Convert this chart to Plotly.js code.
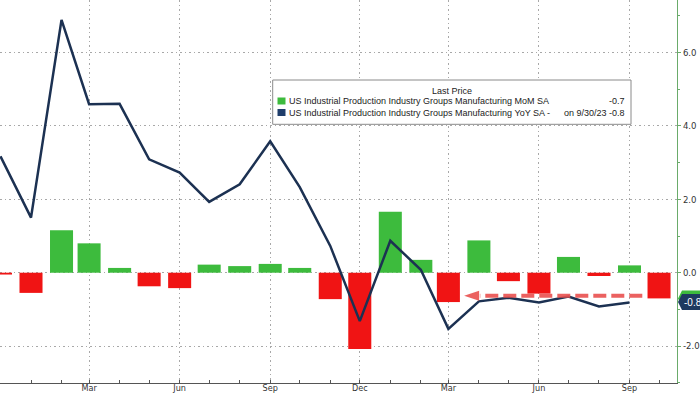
<!DOCTYPE html>
<html>
<head>
<meta charset="utf-8">
<script src="https://cdn.plot.ly/plotly-3.0.1.min.js"></script>
<style>html,body{margin:0;padding:0;background:#fff;}#chart{width:700px;height:394px;}</style>
</head>
<body>
<div id="chart"></div>
<script>
// ---- data ----
const momMonths = ['2021-12-01','2022-01-01','2022-02-01','2022-03-01','2022-04-01','2022-05-01','2022-06-01','2022-07-01','2022-08-01','2022-09-01','2022-10-01','2022-11-01','2022-12-01','2023-01-01','2023-02-01','2023-03-01','2023-04-01','2023-05-01','2023-06-01','2023-07-01','2023-08-01','2023-09-01','2023-10-01'];
const momValues = [-0.05,-0.55,1.16,0.80,0.13,-0.37,-0.42,0.22,0.18,0.24,0.13,-0.72,-2.08,1.66,0.35,-0.80,0.88,-0.23,-0.57,0.43,-0.09,0.20,-0.70];
const yoyMonths = ['2021-12-01','2022-01-01','2022-02-01','2022-03-01','2022-04-01','2022-05-01','2022-06-01','2022-07-01','2022-08-01','2022-09-01','2022-10-01','2022-11-01','2022-12-01','2023-01-01','2023-02-01','2023-03-01','2023-04-01','2023-05-01','2023-06-01','2023-07-01','2023-08-01','2023-09-01'];
const yoyValues = [3.17,1.50,6.89,4.59,4.60,3.09,2.73,1.93,2.41,3.58,2.33,0.73,-1.32,0.87,0.08,-1.53,-0.78,-0.68,-0.81,-0.65,-0.92,-0.81];
const tickDates = ['2021-12-01','2022-03-01','2022-06-01','2022-09-01','2022-12-01','2023-03-01','2023-06-01','2023-09-01'];
const tickLabels = ['','Mar','Jun','Sep','Dec','Mar','Jun','Sep'];
const yTickValues = [-2, 0, 2, 4, 6];
const yTickLabels = ['-2.0', '0.0', '2.0', '4.0', '6.0'];
const seriesNames = ['US Industrial Production Industry Groups Manufacturing MoM SA','US Industrial Production Industry Groups Manufacturing YoY SA -'];
const lastValues = ['-0.7','-0.8'];
const lastNumbers = [-0.7, -0.8];
const lastDateText = 'on 9/30/23';
const legendHeader = 'Last Price';
const arrowLevel = -0.63;
const arrowFrom = '2023-09-14';
const arrowTo = '2023-04-02';
const arrowTip = '2023-03-17';

// ---- style ----
const GREEN = '#3dbb3d', RED = '#f01414', NAVY = '#1c3152', AXG = '#6aab6a', TAGNAVY = '#1e3a5f';
const W = 677, H = 383; // plot area in px
const px = x => x / W;
const py = y => (H - y) / H;
const tickFamily = '"Liberation Sans Narrow","Arial Narrow","DejaVu Sans Condensed","Liberation Sans",sans-serif';
const legFont = {family: '"Liberation Sans",Arial,sans-serif', size: 9, color: '#222'};
const GRID = '#a8a8a8', GRIDDASH = '1.5px,3px';

const barTrace = {
  type: 'bar', x: momMonths, y: momValues,
  marker: {color: momValues.map(v => v >= 0 ? GREEN : RED)},
  width: 23.4 * 86400000,
  name: seriesNames[0], hoverinfo: 'skip'
};
const lineTrace = {
  type: 'scatter', mode: 'lines', x: yoyMonths, y: yoyValues,
  line: {color: NAVY, width: 2.5},
  name: seriesNames[1], hoverinfo: 'skip'
};

const shapes = [
  // legend box
  {type: 'rect', xref: 'paper', yref: 'paper', x0: px(272.7), x1: px(631), y0: py(124.3), y1: py(80),
   line: {color: '#8a8a8a', width: 1}, fillcolor: '#ffffff', layer: 'above'},
  {type: 'rect', xref: 'paper', yref: 'paper', x0: px(277.5), x1: px(285.5), y0: py(104.5), y1: py(97.5),
   line: {width: 0}, fillcolor: GREEN, layer: 'above'},
  {type: 'rect', xref: 'paper', yref: 'paper', x0: px(277.5), x1: px(285.5), y0: py(116), y1: py(109),
   line: {width: 0}, fillcolor: '#1f3d6b', layer: 'above'},
  // dashed arrow
  {type: 'line', xref: 'x', yref: 'y', x0: arrowFrom, x1: arrowTo, y0: arrowLevel, y1: arrowLevel,
   line: {color: '#e9514f', width: 4, dash: '13px,5px'}, layer: 'above', opacity: 0.9},
  {type: 'path', xref: 'x', yref: 'y', xsizemode: 'pixel', ysizemode: 'pixel', xanchor: arrowTip, yanchor: arrowLevel,
   path: 'M0,0 L15,5 L15,-5 Z', fillcolor: '#e9514f', line: {width: 0}, layer: 'above', opacity: 0.9},
  // right-axis value tags: green (behind) and navy pointer
  {type: 'path', xref: 'paper', yref: 'y', xsizemode: 'pixel', ysizemode: 'pixel', xanchor: 1, yanchor: lastNumbers[0],
   path: 'M1,0 L5,8 L30,8 L30,-8 L5,-8 Z', fillcolor: GREEN, line: {width: 0}, layer: 'above'},
  {type: 'path', xref: 'paper', yref: 'y', xsizemode: 'pixel', ysizemode: 'pixel', xanchor: 1, yanchor: lastNumbers[1],
   path: 'M1,0 L5,8 L30,8 L30,-8 L5,-8 Z', fillcolor: TAGNAVY, line: {width: 0}, layer: 'above'}
];

const annotations = [
  {xref: 'paper', yref: 'paper', x: px(451.7), y: py(91), text: legendHeader, showarrow: false, xanchor: 'center', yanchor: 'middle', font: legFont},
  {xref: 'paper', yref: 'paper', x: px(287), y: py(101), text: seriesNames[0], showarrow: false, xanchor: 'left', yanchor: 'middle', font: legFont},
  {xref: 'paper', yref: 'paper', x: px(287), y: py(112.7), text: seriesNames[1], showarrow: false, xanchor: 'left', yanchor: 'middle', font: legFont},
  {xref: 'paper', yref: 'paper', x: px(627), y: py(101), text: lastValues[0], showarrow: false, xanchor: 'right', yanchor: 'middle', font: legFont},
  {xref: 'paper', yref: 'paper', x: px(627), y: py(112.7), text: lastDateText + ' ' + lastValues[1], showarrow: false, xanchor: 'right', yanchor: 'middle', font: legFont},
  {xref: 'paper', yref: 'y', x: 1, y: lastNumbers[1], text: lastValues[1], showarrow: false, xanchor: 'left', yanchor: 'middle', xshift: 5,
   borderpad: 1, font: {family: '"Liberation Sans",Arial,sans-serif', size: 10, color: '#fff'}}
];

const layout = {
  width: 700, height: 394,
  margin: {l: 0, r: 23, t: 0, b: 11, pad: 0},
  paper_bgcolor: '#fff', plot_bgcolor: '#fff',
  showlegend: false, bargap: 0.2,
  xaxis: {
    type: 'date', range: ['2021-11-30 12:00', '2023-10-19 06:00'],
    tickmode: 'array', tickvals: tickDates, ticktext: tickLabels,
    showgrid: true, gridcolor: GRID, griddash: GRIDDASH, gridwidth: 1,
    showline: true, linecolor: '#555', linewidth: 1,
    ticks: 'inside', ticklen: 3, tickcolor: '#555',
    minor: {dtick: 'M1', tick0: '2021-12-01', ticks: 'inside', ticklen: 3, tickcolor: '#555', showgrid: false},
    tickfont: {family: tickFamily, size: 9, color: '#333'}, ticklabelstandoff: -4,
    zeroline: false, fixedrange: true
  },
  yaxis: {
    side: 'right', range: [-3.005, 7.43], tickmode: 'array', tickvals: yTickValues, ticktext: yTickLabels,
    tickfont: {family: tickFamily, size: 9.5, color: '#333'},
    showgrid: true, gridcolor: GRID, griddash: GRIDDASH, gridwidth: 1,
    showline: true, linecolor: AXG, linewidth: 1,
    ticks: 'outside', ticklen: 3, tickcolor: AXG,
    minor: {dtick: 1, ticks: 'outside', ticklen: 2, tickcolor: AXG, showgrid: false},
    zeroline: false, fixedrange: true
  },
  shapes: shapes,
  annotations: annotations
};

Plotly.newPlot('chart', [barTrace, lineTrace], layout, {staticPlot: true, displayModeBar: false});
</script>
</body>
</html>
